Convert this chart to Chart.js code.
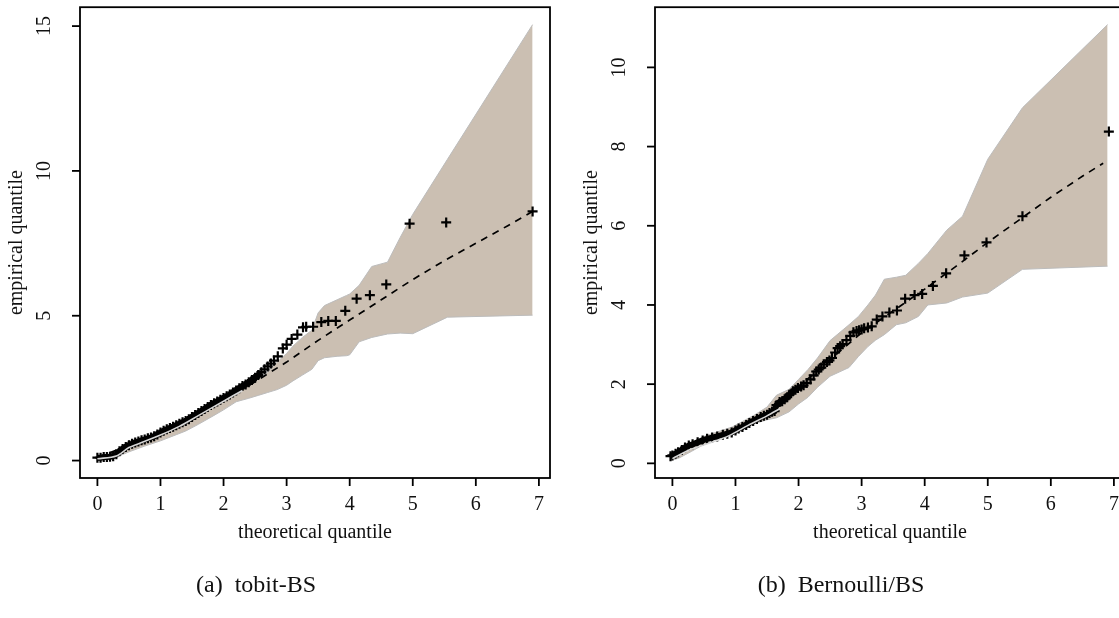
<!DOCTYPE html>
<html>
<head>
<meta charset="utf-8">
<script src="https://cdn.jsdelivr.net/npm/chart.js@4.4.1/dist/chart.umd.min.js"></script>
<style>
  html, body { margin: 0; padding: 0; background: #fff; overflow: hidden; }
  body { width: 1119px; height: 618px; position: relative; }
  canvas { position: absolute; top: 0; }
  #left { left: 0; }
  #right { left: 560px; }
  .caption {
    position: absolute; top: 571px; font-family: "Liberation Serif", serif;
    font-size: 24px; color: #111; white-space: pre; transform: translateX(-50%);
  }
</style>
</head>
<body>
<canvas id="left" width="560" height="618"></canvas>
<canvas id="right" width="580" height="618"></canvas>
<div class="caption" style="left:256px">(a)  tobit-BS</div>
<div class="caption" style="left:841px">(b)  Bernoulli/BS</div>
<script>
// ---- panel (a) tobit-BS ----
const tobitX = [0.0,0.05,0.1,0.15,0.2,0.25,0.3,0.35,0.4,0.45,0.5,0.55,0.6,0.65,0.7,0.75,0.8,0.85,0.9,0.95,1.0,1.05,1.1,1.15,1.2,1.25,1.3,1.35,1.4,1.45,1.5,1.55,1.6,1.65,1.7,1.75,1.8,1.85,1.9,1.95,2.0,2.05,2.1,2.15,2.2,2.25,2.3,2.35,2.4,2.45,2.5,2.55,2.6,2.65,2.7,2.75,2.8,2.86,2.94,3.0,3.08,3.17,3.26,3.31,3.42,3.55,3.66,3.78,3.93,4.11,4.32,4.58,4.95,5.53,6.9];
const tobitY = [0.1,0.1,0.12,0.12,0.13,0.15,0.22,0.32,0.4,0.47,0.53,0.58,0.62,0.66,0.7,0.73,0.77,0.8,0.84,0.9,0.97,1.03,1.08,1.12,1.17,1.22,1.27,1.32,1.37,1.43,1.5,1.57,1.64,1.71,1.78,1.85,1.92,1.98,2.04,2.1,2.16,2.22,2.28,2.35,2.42,2.5,2.57,2.63,2.7,2.78,2.86,2.95,3.05,3.15,3.25,3.35,3.45,3.6,3.87,4.0,4.2,4.35,4.6,4.62,4.62,4.78,4.82,4.82,5.17,5.59,5.71,6.08,8.18,8.22,8.6];
const tobitDenseMax = 2.6;
const tobitEnvX = [0,0.15,0.3,0.5,0.75,1.0,1.2,1.4,1.6,1.85,2.0,2.2,2.4,2.55,2.7,2.85,3.0,3.1,3.25,3.4,3.5,3.6,3.8,3.95,4.0,4.15,4.35,4.6,4.8,5.0,5.55,6.9];
const tobitUpper = [0.15,0.2,0.35,0.68,0.8,0.95,1.15,1.35,1.6,1.92,2.1,2.35,2.6,2.8,3.05,3.4,3.7,3.95,4.25,4.5,5.1,5.35,5.55,5.7,5.75,6.05,6.7,6.85,7.7,8.5,10.4,15.05];
const tobitLower = [0.0,0.05,0.12,0.3,0.5,0.68,0.85,1.02,1.25,1.56,1.75,2.03,2.15,2.25,2.35,2.45,2.6,2.75,2.95,3.15,3.45,3.55,3.6,3.62,3.65,4.1,4.25,4.37,4.4,4.38,4.95,5.02];
const tobitRefX = [0,0.5,1,1.5,2,2.5,3,3.5,4,4.5,5,5.5,6,6.5,6.9];
const tobitRefY = [0.1,0.53,0.97,1.5,2.08,2.72,3.4,4.15,4.85,5.55,6.25,6.9,7.5,8.1,8.6];
const tobitMidX = [0,0.3,0.5,0.7,1.0,1.3,1.6,2.0,2.3];
const tobitMidY = [0.06,0.16,0.45,0.62,0.88,1.18,1.55,2.05,2.42];
const tobitYTicks = [0,5,10,15];

// ---- panel (b) Bernoulli/BS ----
const bernX = [-0.03,0.0,0.05,0.09,0.15,0.2,0.26,0.32,0.4,0.48,0.55,0.63,0.71,0.8,0.87,0.94,1.0,1.05,1.11,1.17,1.22,1.28,1.34,1.4,1.45,1.5,1.54,1.58,1.62,1.65,1.7,1.74,1.78,1.82,1.86,1.91,1.95,1.99,2.04,2.08,2.13,2.19,2.24,2.28,2.32,2.36,2.4,2.45,2.49,2.53,2.58,2.62,2.66,2.7,2.76,2.82,2.87,2.92,2.96,3.0,3.04,3.1,3.16,3.24,3.33,3.44,3.56,3.69,3.84,3.96,4.13,4.34,4.63,4.98,5.55,6.92];
const bernY = [0.18,0.2,0.24,0.28,0.34,0.4,0.45,0.48,0.53,0.58,0.62,0.65,0.68,0.72,0.75,0.78,0.83,0.88,0.92,0.97,1.02,1.07,1.12,1.17,1.2,1.23,1.27,1.3,1.32,1.47,1.55,1.57,1.62,1.67,1.74,1.82,1.86,1.9,1.94,1.97,2.03,2.12,2.22,2.32,2.37,2.42,2.5,2.56,2.6,2.66,2.8,2.91,2.96,3.01,3.11,3.22,3.31,3.34,3.36,3.38,3.41,3.43,3.46,3.63,3.71,3.81,3.86,4.16,4.25,4.28,4.48,4.8,5.25,5.58,6.24,8.38];
const bernDenseMax = 2.0;
const bernEnvX = [0,0.1,0.3,0.5,0.95,1.3,1.5,1.65,1.85,2.0,2.15,2.3,2.5,2.8,2.95,3.1,3.22,3.36,3.55,3.7,3.9,4.05,4.35,4.6,5.0,5.55,6.9];
const bernUpper = [0.23,0.38,0.52,0.68,0.92,1.22,1.42,1.72,1.87,2.12,2.37,2.66,3.1,3.5,3.71,4.0,4.25,4.65,4.7,4.75,5.05,5.3,5.89,6.24,7.68,8.98,11.08];
const bernLower = [0.08,0.13,0.3,0.48,0.78,1.0,1.1,1.15,1.3,1.5,1.67,1.92,2.2,2.42,2.7,2.95,3.11,3.25,3.5,3.55,3.71,4.0,4.05,4.2,4.3,4.9,4.98];
const bernRefX = [0,0.5,1,1.5,2,2.5,3,3.5,4,4.5,5,5.5,6,6.5,6.83];
const bernRefY = [0.2,0.6,0.83,1.23,1.93,2.62,3.3,3.85,4.4,4.98,5.58,6.15,6.72,7.25,7.58];
const bernMidX = [0,0.3,0.6,0.9,1.2,1.5,1.7];
const bernMidY = [0.12,0.36,0.52,0.7,0.96,1.2,1.38];
const bernYTicks = [0,2,4,6,8,10];

const xTicks = [0,1,2,3,4,5,6,7];
const FONT = '"Liberation Serif", serif';

function pts(xs, ys) {
    return xs.map((x, i) => ({x: x, y: ys[i]}));
}

// R style frame, ticks and labels
const rAxes = {
    id: 'rAxes',
    afterDraw(chart) {
        const ctx = chart.ctx;
        const a = chart.chartArea;
        const sx = chart.scales.x, sy = chart.scales.y;
        const o = chart.options.plugins.rAxes;
        ctx.save();
        ctx.strokeStyle = '#000';
        ctx.lineWidth = 1.8;
        ctx.strokeRect(a.left, a.top, a.right - a.left, a.bottom - a.top);
        ctx.fillStyle = '#111';
        ctx.font = '20px ' + FONT;
        ctx.textAlign = 'center';
        ctx.textBaseline = 'middle';
        xTicks.forEach(v => {
            const px = sx.getPixelForValue(v);
            ctx.beginPath();
            ctx.moveTo(px, a.bottom);
            ctx.lineTo(px, a.bottom + 8);
            ctx.stroke();
            ctx.fillText(String(v), px, a.bottom + 27);
        });
        o.yTicks.forEach(v => {
            const py = sy.getPixelForValue(v);
            ctx.beginPath();
            ctx.moveTo(a.left - 8, py);
            ctx.lineTo(a.left, py);
            ctx.stroke();
            ctx.save();
            ctx.translate(a.left - 35, py);
            ctx.rotate(-Math.PI / 2);
            ctx.fillText(String(v), 0, 0);
            ctx.restore();
        });
        ctx.font = '20px ' + FONT;
        ctx.fillText('theoretical quantile', (a.left + a.right) / 2, a.bottom + 55);
        ctx.save();
        ctx.translate(a.left - 63, (a.top + a.bottom) / 2);
        ctx.rotate(-Math.PI / 2);
        ctx.fillText('empirical quantile', 0, 0);
        ctx.restore();
        ctx.restore();
    }
};

function makePanel(id, padLeft, padRight, yMin, yMax, yTicks, px, py, denseMax, envX, up, lo, refX, refY, midX, midY) {
    const all = pts(px, py);
    const dense = all.filter(p => p.x <= denseMax);
    new Chart(document.getElementById(id), {
        type: 'scatter',
        data: {
            datasets: [
                {
                    data: pts(envX, up), showLine: true, pointRadius: 0,
                    borderColor: '#bcbcbc', borderWidth: 1,
                    backgroundColor: '#cbbfb2', fill: '+1', order: 6
                },
                {
                    data: pts(envX, lo), showLine: true, pointRadius: 0,
                    borderColor: '#bcbcbc', borderWidth: 1, fill: false, order: 5
                },
                {
                    data: pts(refX, refY), showLine: true, pointRadius: 0,
                    borderColor: '#000', borderWidth: 1.7, borderDash: [7, 6],
                    fill: false, order: 4
                },
                {
                    // overlapping crosses in the crowded lower part read as a solid band
                    data: dense, showLine: true, pointRadius: 0,
                    borderColor: '#000', borderWidth: 6, fill: false, order: 3
                },
                {
                    data: all, showLine: false, pointStyle: 'cross',
                    pointRadius: 5, borderColor: '#000', borderWidth: 2.2,
                    backgroundColor: '#000', order: 2
                },
                {
                    data: pts(midX, midY), showLine: true, pointRadius: 0,
                    borderColor: '#d6d6d6', borderWidth: 1.6, tension: 0.3,
                    fill: false, order: 1
                }
            ]
        },
        options: {
            responsive: false,
            animation: false,
            layout: { padding: { left: padLeft, right: padRight, top: 4, bottom: 140 } },
            scales: {
                x: { type: 'linear', min: -0.276, max: 7.176, display: false },
                y: { type: 'linear', min: yMin, max: yMax, display: false }
            },
            plugins: {
                legend: { display: false },
                tooltip: { enabled: false },
                rAxes: { yTicks: yTicks }
            }
        },
        plugins: [rAxes]
    });
}

makePanel('left', 80, 10, -0.602, 15.652, tobitYTicks, tobitX, tobitY, tobitDenseMax,
    tobitEnvX, tobitUpper, tobitLower, tobitRefX, tobitRefY, tobitMidX, tobitMidY);
makePanel('right', 95, 15, -0.37, 11.52, bernYTicks, bernX, bernY, bernDenseMax,
    bernEnvX, bernUpper, bernLower, bernRefX, bernRefY, bernMidX, bernMidY);
</script>
</body>
</html>
